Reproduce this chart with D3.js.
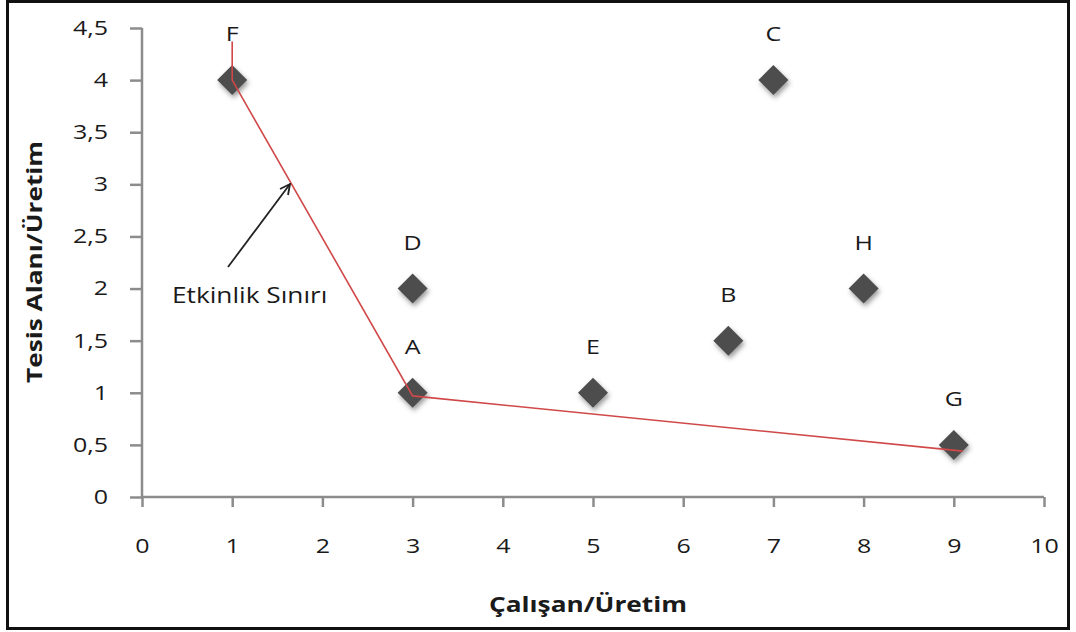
<!DOCTYPE html>
<html lang="tr">
<head>
<meta charset="utf-8">
<script src="https://cdn.jsdelivr.net/npm/d3@7"></script>
<style>
  html, body { margin: 0; padding: 0; background: #fff; }
  svg { display: block; font-family: "Open Sans", "Noto Sans", sans-serif; }
</style>
</head>
<body>
<svg id="chart" width="1076" height="632"></svg>
<script>
// Firma noktaları: çalışan/üretim ve tesis alanı/üretim oranları
const firms = ["A", "B", "C", "D", "E", "F", "G", "H"];
const workerRatio = [3, 6.5, 7, 3, 5, 1, 9, 8];
const areaRatio = [1, 1.5, 4, 2, 1, 4, 0.5, 2];

// Etkinlik sınırı kırık çizgisi
const frontierX = [1, 1, 3, 9.1];
const frontierY = [4.37, 4, 0.97, 0.44];

const xTicks = [0, 1, 2, 3, 4, 5, 6, 7, 8, 9, 10];
const yTicks = [0, 0.5, 1, 1.5, 2, 2.5, 3, 3.5, 4, 4.5];

const svg = d3.select("#chart");

const x = d3.scaleLinear().domain([0, 10]).range([142, 1044]);
const y = d3.scaleLinear().domain([0, 4.5]).range([497, 28]);
const fmt = v => String(v).replace(".", ",");

// yazılar yatayda biraz geniş çizilir
const K = 1.25;
function widen(sel) {
  sel.each(function () {
    const t = d3.select(this);
    const x0 = +(t.attr("x") || 0);
    t.attr("x", x0 / K);
    const prev = t.attr("transform") || "";
    t.attr("transform", `${prev} scale(${K},1)`.trim());
  });
}

// dış çerçeve
svg.append("rect")
  .attr("x", 7.5).attr("y", 1.5)
  .attr("width", 1061).attr("height", 627)
  .attr("fill", "#fff").attr("stroke", "#111").attr("stroke-width", 3);

const defs = svg.append("defs");
const shadow = defs.append("filter").attr("id", "shadow")
  .attr("x", "-60%").attr("y", "-60%").attr("width", "220%").attr("height", "220%");
shadow.append("feDropShadow")
  .attr("dx", 1.5).attr("dy", 3).attr("stdDeviation", 2.6)
  .attr("flood-color", "#000").attr("flood-opacity", 0.4);

defs.append("marker").attr("id", "arrowHead")
  .attr("viewBox", "0 0 12 12").attr("refX", 11).attr("refY", 6)
  .attr("markerWidth", 12).attr("markerHeight", 12)
  .attr("markerUnits", "userSpaceOnUse").attr("orient", "auto")
  .append("path").attr("d", "M1,1 L11,6 L1,11")
  .attr("fill", "none").attr("stroke", "#222").attr("stroke-width", 1.8);

// eksenler
const xAxis = svg.append("g").attr("transform", `translate(0,${y(0)})`)
  .call(d3.axisBottom(x).tickValues(xTicks).tickFormat(fmt).tickSize(10).tickPadding(32));
const yAxis = svg.append("g").attr("transform", `translate(${x(0)},0)`)
  .call(d3.axisLeft(y).tickValues(yTicks).tickFormat(fmt).tickSize(12).tickPadding(22));

[xAxis, yAxis].forEach(g => {
  g.select(".domain").attr("stroke", "#8c8c8c").attr("stroke-width", 2.5);
  g.selectAll(".tick line").attr("stroke", "#8c8c8c").attr("stroke-width", 2.5);
  g.selectAll(".tick text").attr("fill", "#1a1a1a")
    .style("font-family", "'Open Sans', 'Noto Sans', sans-serif").style("font-size", "20px")
    .call(widen);
});
xAxis.select(".domain").attr("d", `M${x(0)},0H${x(10)}`);
yAxis.select(".domain").attr("d", `M0,${y(4.5)}V${y(0)}`);

// eksen başlıkları
svg.append("text")
  .attr("x", 588).attr("y", 612).attr("text-anchor", "middle")
  .style("font-size", "21px").style("font-weight", "bold").attr("fill", "#1a1a1a")
  .text("Çalışan/Üretim")
  .call(widen);
svg.append("text")
  .attr("transform", "translate(42,262) rotate(-90)").attr("text-anchor", "middle")
  .style("font-size", "21px").style("font-weight", "bold").attr("fill", "#1a1a1a")
  .text("Tesis Alanı/Üretim")
  .call(widen);

// nokta işaretleri
const pts = firms.map((f, i) => ({ f, wx: workerRatio[i], ay: areaRatio[i] }));
const s = 15;
svg.append("g").selectAll("path").data(pts).join("path")
  .attr("d", d => `M${x(d.wx)},${y(d.ay) - s}L${x(d.wx) + s},${y(d.ay)}L${x(d.wx)},${y(d.ay) + s}L${x(d.wx) - s},${y(d.ay)}Z`)
  .attr("fill", "#4d4d4d").attr("filter", "url(#shadow)");

// etkinlik sınırı
const frontier = frontierX.map((v, i) => [v, frontierY[i]]);
svg.append("path")
  .attr("d", d3.line().x(d => x(d[0])).y(d => y(d[1]))(frontier))
  .attr("fill", "none").attr("stroke", "#d04848").attr("stroke-width", 1.6);

// nokta etiketleri
svg.append("g").selectAll("text").data(pts).join("text")
  .attr("x", d => x(d.wx)).attr("y", d => y(d.ay) - 39)
  .attr("text-anchor", "middle").style("font-size", "20px").attr("fill", "#1a1a1a")
  .text(d => d.f)
  .call(widen);

// açıklama oku
svg.append("line")
  .attr("x1", 228).attr("y1", 267).attr("x2", 290).attr("y2", 184)
  .attr("stroke", "#222").attr("stroke-width", 1.8).attr("marker-end", "url(#arrowHead)");
svg.append("text")
  .attr("x", 172).attr("y", 303).style("font-size", "21px").attr("fill", "#1a1a1a")
  .text("Etkinlik Sınırı")
  .call(widen);
</script>
</body>
</html>
